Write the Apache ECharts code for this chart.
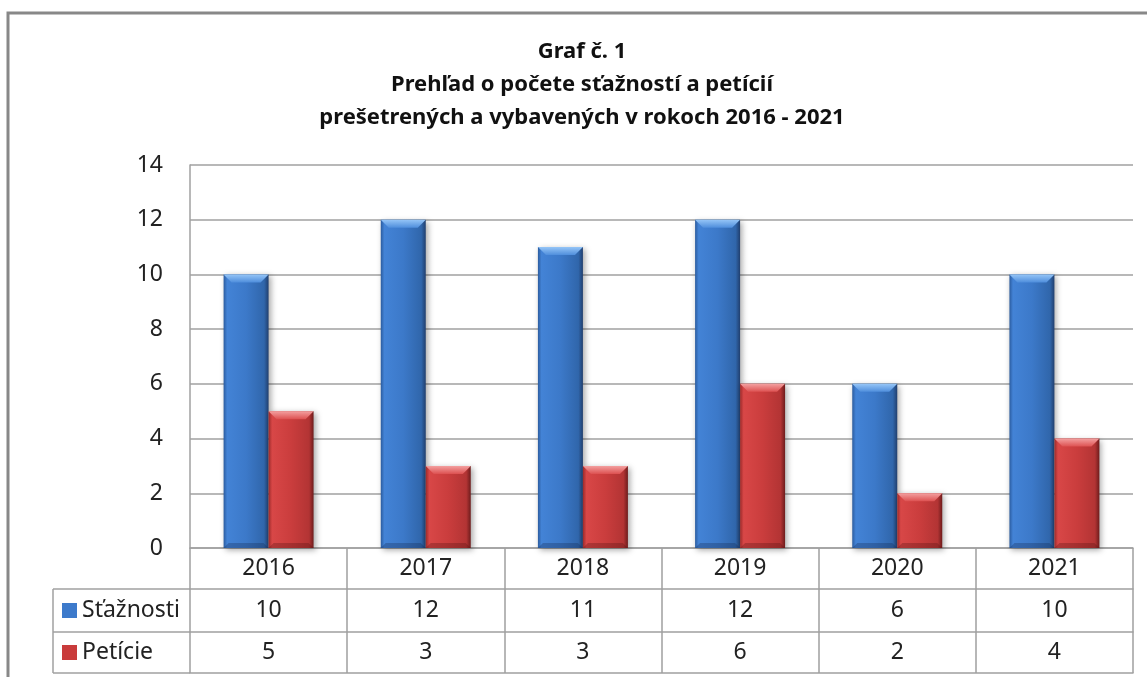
<!DOCTYPE html>
<html>
<head>
<meta charset="utf-8">
<script src="https://cdn.jsdelivr.net/npm/echarts@6/dist/echarts.min.js"></script>
<style>
  html, body { margin: 0; padding: 0; background: #fff; }
  #chart { width: 1147px; height: 677px; }
</style>
</head>
<body>
<div id="chart"></div>
<script>
const years = ['2016', '2017', '2018', '2019', '2020', '2021']
const staznosti = [10, 12, 11, 12, 6, 10]
const peticie = [5, 3, 3, 6, 2, 4]
const seriesNames = ['Sťažnosti', 'Petície']
const titleLines = ['Graf č. 1', 'Prehľad o počete sťažností a petícií', 'prešetrených a vybavených v rokoch 2016 - 2021']

const FONT = 'Noto Sans'
const LINE = '#a0a0a0'
const gridBox = { left: 190, top: 165, right: 14, height: 383 }
const rowH = [41, 43, 41] // table rows: years, Sťažnosti, Petície

// bar look: body gradient, bevel top
const palette = [
  { main: '#3d7acb', body: ['#2b5c9f', '#4383d6', '#3c79c9', '#3066ab', '#213f6e'], top: ['#95c5f7', '#4f8edc'], bottom: 'rgba(20,40,80,0.3)' },
  { main: '#c93b3b', body: ['#9c2a2a', '#d84747', '#ca3d3d', '#b33434', '#6e1c1c'], top: ['#f3a0a0', '#dd5151'], bottom: 'rgba(80,15,15,0.3)' }
]
const barRatio = 45 / 157.2

function makeRender(sIdx) {
  const p = palette[sIdx]
  return function(params, api) {
    const idx = api.value(0)
    const top = api.coord([idx, api.value(1)])
    const base = api.coord([idx, 0])[1]
    const w = api.size([1, 0])[0] * barRatio
    const x = sIdx === 0 ? top[0] - w : top[0]
    const y = top[1]
    const h = base - y
    const b = Math.min(8, h / 2)
    const grad = (dir, stops) => new echarts.graphic.LinearGradient(dir[0], dir[1], dir[2], dir[3],
      stops.map((c, i) => ({ offset: stops.length === 2 ? i : [0, 0.08, 0.5, 0.9, 1][i], color: c })))
    return {
      type: 'group',
      children: [
        {
          type: 'rect',
          shape: { x: x, y: y, width: w, height: h },
          style: {
            fill: grad([0, 0, 1, 0], p.body),
            shadowBlur: 6, shadowColor: 'rgba(0,0,0,0.35)', shadowOffsetX: 2, shadowOffsetY: 2
          }
        },
        {
          type: 'polygon',
          shape: { points: [[x, y], [x + w, y], [x + w - b, y + b], [x + b, y + b]] },
          style: { fill: grad([0, 0, 0, 1], p.top) }
        },
        {
          type: 'polygon',
          shape: { points: [[x, base], [x + w, base], [x + w - 5, base - 5], [x + 5, base - 5]] },
          style: { fill: p.bottom }
        }
      ]
    }
  }
}

function tableAxis(data, offset, len, margin) {
  return {
    type: 'category',
    position: 'bottom',
    offset: offset,
    data: data,
    axisLine: { show: true, lineStyle: { color: LINE, width: 1.5 } },
    axisTick: { show: true, length: len, interval: 0, lineStyle: { color: LINE, width: 1.5 } },
    axisLabel: { show: true, interval: 0, margin: margin, verticalAlign: 'middle', fontFamily: FONT, fontSize: 23, color: '#222' },
    splitLine: { show: false }
  }
}

const chart = echarts.init(document.getElementById('chart'), null, { renderer: 'canvas' })

const tableTop = gridBox.top + gridBox.height
const tableLeft = 53

chart.setOption({
  backgroundColor: '#fff',
  animation: false,
  title: {
    text: titleLines.join('\n'),
    left: 582,
    top: 35,
    textAlign: 'center',
    padding: 0,
    textStyle: { fontFamily: FONT, fontWeight: 'bold', fontSize: 22, lineHeight: 33, color: '#111' }
  },
  grid: gridBox,
  legend: [0, 1].map(i => ({
    data: [seriesNames[i]],
    left: 62,
    top: tableTop + rowH[0] + (i === 0 ? rowH[1] / 2 : rowH[1] + rowH[2] / 2) - 12,
    padding: 0,
    itemWidth: 15,
    itemHeight: 15,
    icon: 'rect',
    selectedMode: false,
    textStyle: { fontFamily: FONT, fontSize: 23, lineHeight: 24, color: '#222' }
  })),
  xAxis: [
    tableAxis(years, 0, rowH[0], rowH[0] / 2),
    tableAxis(staznosti.map(String), rowH[0], rowH[1], rowH[1] / 2),
    tableAxis(peticie.map(String), rowH[0] + rowH[1], rowH[2], rowH[2] / 2),
    Object.assign(tableAxis(years, rowH[0] + rowH[1] + rowH[2], 0, 0), { axisLabel: { show: false }, axisTick: { show: false } })
  ],
  yAxis: {
    type: 'value',
    min: 0,
    max: 14,
    interval: 2,
    axisLine: { show: true, lineStyle: { color: LINE, width: 1.5 } },
    axisTick: { show: false },
    axisLabel: { margin: 27, fontFamily: FONT, fontSize: 23, color: '#222' },
    splitLine: { lineStyle: { color: LINE, width: 1.5 } }
  },
  graphic: [
    {
      type: 'polyline',
      shape: { points: [[8, 677], [8, 13], [1147, 13]] },
      style: { stroke: '#888', lineWidth: 3, fill: null }
    },
    {
      type: 'group',
      children: [
        { type: 'line', shape: { x1: tableLeft, y1: tableTop + rowH[0], x2: gridBox.left, y2: tableTop + rowH[0] } },
        { type: 'line', shape: { x1: tableLeft, y1: tableTop + rowH[0] + rowH[1], x2: gridBox.left, y2: tableTop + rowH[0] + rowH[1] } },
        { type: 'line', shape: { x1: tableLeft, y1: tableTop + rowH[0] + rowH[1] + rowH[2], x2: gridBox.left, y2: tableTop + rowH[0] + rowH[1] + rowH[2] } },
        { type: 'line', shape: { x1: tableLeft, y1: tableTop + rowH[0], x2: tableLeft, y2: tableTop + rowH[0] + rowH[1] + rowH[2] } }
      ].map(l => Object.assign(l, { style: { stroke: LINE, lineWidth: 1.5 } }))
    }
  ],
  series: [staznosti, peticie].map((vals, i) => ({
    name: seriesNames[i],
    type: 'custom',
    xAxisIndex: 0,
    yAxisIndex: 0,
    itemStyle: { color: palette[i].main },
    renderItem: makeRender(i),
    encode: { x: 0, y: 1 },
    data: vals.map((v, k) => [k, v])
  }))
})
</script>
</body>
</html>
